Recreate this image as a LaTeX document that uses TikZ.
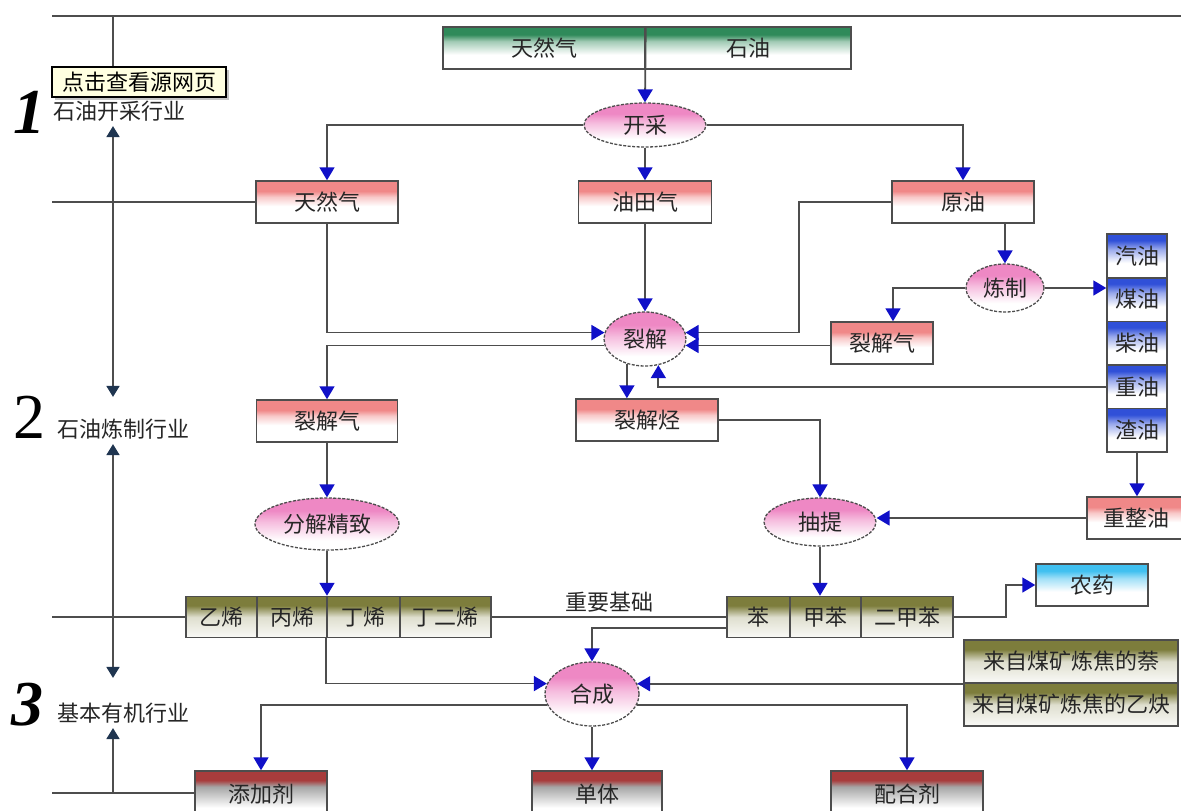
\documentclass[tikz,border=0pt]{standalone}
\usepackage{fontspec}
\usepackage{tikz}
\usetikzlibrary{arrows.meta,calc,shapes.geometric,shadows}
\newfontfamily\cjk{Noto Sans CJK SC}
\newfontfamily\numfont{Liberation Serif}
\definecolor{linegray}{HTML}{4D4D4D}
\definecolor{arrowblue}{HTML}{1010C8}
\definecolor{axisblue}{HTML}{1F3550}
\definecolor{boxred}{HTML}{F08888}
\definecolor{pinkell}{HTML}{EE88C4}
\definecolor{srcgreen}{HTML}{2F8A5A}
\definecolor{olivetop}{HTML}{7D7D3C}
\definecolor{endred}{HTML}{A83C3C}
\definecolor{cellblue}{HTML}{3050D8}
\definecolor{skycyan}{HTML}{40C0F0}
\definecolor{tipyellow}{HTML}{FFFFE1}
% fills: solid band on top, fading to white
\pgfdeclareverticalshading{redfade}{100bp}{color(0bp)=(white); color(45bp)=(white); color(56bp)=(boxred!45); color(63bp)=(boxred); color(100bp)=(boxred)}
\pgfdeclareverticalshading{greenfade}{100bp}{color(0bp)=(white); color(42bp)=(white); color(58bp)=(srcgreen!45); color(66bp)=(srcgreen); color(100bp)=(srcgreen)}
\pgfdeclareverticalshading{olivefade}{100bp}{color(0bp)=(white); color(25bp)=(olivetop!4); color(50bp)=(olivetop!25); color(64bp)=(olivetop); color(100bp)=(olivetop)}
\pgfdeclareverticalshading{darkfade}{100bp}{color(0bp)=(white); color(35bp)=(white); color(58bp)=(black!35); color(65bp)=(endred); color(100bp)=(endred)}
\pgfdeclareverticalshading{bluefade}{100bp}{color(0bp)=(white); color(42bp)=(white); color(58bp)=(cellblue!50); color(68bp)=(cellblue); color(100bp)=(cellblue)}
\pgfdeclareverticalshading{cyanfade}{100bp}{color(0bp)=(white); color(42bp)=(white); color(58bp)=(skycyan!50); color(67bp)=(skycyan); color(100bp)=(skycyan)}
\pgfdeclareverticalshading{pinkfade}{100bp}{color(0bp)=(white); color(34bp)=(white); color(52bp)=(pinkell!55); color(63bp)=(pinkell); color(100bp)=(pinkell)}

\begin{document}
\begin{tikzpicture}[x=1pt, y=-1pt, line width=1.8pt,
  every node/.style={font=\cjk\fontsize{22}{22}\selectfont, text=black!85},
  flowtip/.tip={Triangle[length=13pt, width=15pt, color=arrowblue]},
  axtip/.tip={Triangle[length=11pt, width=13pt, color=axisblue]},
  rule/.style={draw=linegray},
  flow/.style={draw=linegray, -{flowtip}},
  box/.style={draw=linegray, line width=1.5pt, inner sep=0pt, minimum height=42pt, shade, shading=redfade},
  srcbox/.style={box, shading=greenfade},
  olivebox/.style={box, minimum height=41pt, shading=olivefade},
  bluecell/.style={box, minimum width=60pt, minimum height=43.6pt, shading=bluefade},
  endbox/.style={box, minimum height=46pt, shading=darkfade},
  proc/.style={ellipse, draw=linegray, line width=1.3pt, dash pattern=on 3pt off 1.5pt, inner sep=0pt, shade, shading=pinkfade},
  sector/.style={anchor=west, inner xsep=0pt, inner ysep=4pt},
  bignum/.style={anchor=base, text=black}]

\useasboundingbox[fill=white] (0,0) rectangle (1181,811);
\clip (0,0) rectangle (1181,811);

% ends of the frame lines
\coordinate (ax) at (113,16);
\coordinate (l1) at (52,16);
\coordinate (r1) at (1181,16);
\coordinate (l2) at (52,202);
\coordinate (l3) at (52,617);
\coordinate (l4) at (52,793);

% sector labels on the left
\node[bignum, font=\numfont\fontsize{64}{64}\selectfont\bfseries\itshape] (n1) at (29,133) {1};
\node[bignum, font=\numfont\fontsize{64}{64}\selectfont] (n2) at (29,438) {2};
\node[bignum, font=\numfont\fontsize{64}{64}\selectfont\bfseries\itshape] (n3) at (28,725) {3};
\node[sector] (lab1) at (53,111) {石油开采行业};
\node[sector] (lab2) at (57,429) {石油炼制行业};
\node[sector] (lab3) at (57,713) {基本有机行业};
\node[draw=black, line width=1.2pt, fill=tipyellow, text=black, inner sep=0pt,
      minimum width=174pt, minimum height=30pt,
      drop shadow={shadow xshift=2.5pt, shadow yshift=-2.5pt, opacity=0.45}] (tip) at (139,82) {点击查看源网页};

% raw materials and extraction
\node[srcbox, minimum width=202pt] (srcgas) at (544,48) {天然气};
\node[srcbox, minimum width=206pt] (srcoil) at (748,48) {石油};
\node[proc, minimum width=122pt, minimum height=44pt] (kaicai) at (645,125) {开采};
\node[box, minimum width=142pt] (tianranqi) at (327,202) {天然气};
\node[box, minimum width=133pt] (youtianqi) at (645,202) {油田气};
\node[box, minimum width=142pt] (yuanyou) at (963,202) {原油};

% cracking and refining
\node[proc, minimum width=82pt, minimum height=54pt] (liejie) at (645,339) {裂解};
\node[proc, minimum width=78pt, minimum height=48pt] (lianzhi) at (1005,288) {炼制};
\node[box, minimum width=102pt] (liejieqiR) at (882,343) {裂解气};
\foreach \nm/\txt [count=\k from 0] in {qiyou/汽油, meiyou/煤油, chaiyou/柴油, zhongyou/重油, zhayou/渣油}
  \node[bluecell] (\nm) at (1137,{256+\k*43.6}) {\txt};
\node[box, minimum width=141pt] (liejieqiL) at (327,421) {裂解气};
\node[box, minimum width=142pt] (liejiexi) at (647,420) {裂解烃};
\node[proc, minimum width=144pt, minimum height=52pt] (fenjie) at (327,524) {分解精致};
\node[proc, minimum width=112pt, minimum height=48pt] (chouti) at (820,522) {抽提};
\node[box, minimum width=98pt] (chongzheng) at (1136,518) {重整油};

% basic chemicals
\foreach \nm/\txt/\cx/\w in {yixi/乙烯/221.5/71, bingxi/丙烯/292/70, dingxi/丁烯/363.5/73, dingerxi/丁二烯/445.5/91}
  \node[olivebox, minimum width=\w pt] (\nm) at (\cx,617) {\txt};
\foreach \nm/\txt/\cx/\w in {ben/苯/758.5/63, jiaben/甲苯/825.5/71, erjiaben/二甲苯/907/92}
  \node[olivebox, minimum width=\w pt] (\nm) at (\cx,617) {\txt};
\node[box, minimum width=112pt, shading=cyanfade] (nongyao) at (1092,585) {农药};
\node[olivebox, minimum width=214pt, minimum height=43pt] (nai) at (1071,661.5) {来自煤矿炼焦的萘};
\node[olivebox, minimum width=214pt, minimum height=43pt] (yique) at (1071,704.5) {来自煤矿炼焦的乙炔};
\node[proc, minimum width=94pt, minimum height=64pt] (hecheng) at (592,694) {合成};
\node[endbox, minimum width=132pt] (tianjia) at (261,794) {添加剂};
\node[endbox, minimum width=130pt] (danti) at (597,794) {单体};
\node[endbox, minimum width=152pt] (peihe) at (907,794) {配合剂};

% frame lines and the sector axis
\draw[rule] (l1) -- (r1);
\draw[rule] (ax) -- (ax |- tip.north);
\draw[rule] (l2) -- (l2 -| tianranqi.west);
\draw[rule] (l3) -- (l3 -| yixi.west);
\draw[rule] (l4) -- (l4 -| tianjia.west);
\draw[rule, {axtip}-{axtip}, shorten >=17pt] (ax |- lab1.south) -- (ax |- lab2.north);
\draw[rule, {axtip}-{axtip}, shorten >=20pt] (ax |- lab2.south) -- (ax |- lab3.north);
\draw[rule, {axtip}-] (ax |- lab3.south) -- (ax |- l4);

% flows
\draw[flow] (srcgas.north east) -- (kaicai.north);
\draw[flow] (kaicai.west) -| (tianranqi.north);
\draw[flow] (kaicai.south) -- (youtianqi.north);
\draw[flow] (kaicai.east) -| (yuanyou.north);
\draw[flow] (youtianqi.south) -- (liejie.north);
\draw[flow] (tianranqi.south) |- (liejie.171);
\draw[flow] (yuanyou.west) -- ++(-92,0) |- (liejie.9);
\draw[flow] (liejieqiR.west |- liejie.351) -- (liejie.351);
\draw[flow] (zhongyou.west) -| (liejie.297);
\draw[flow] (liejie.189) -| (liejieqiL.north);
\draw[flow] (liejie.234) -- (liejie.234 |- liejiexi.north);
\draw[flow] (yuanyou.south -| lianzhi.north) -- (lianzhi.north);
\draw[flow] (lianzhi.west) -| ($(liejieqiR.north)+(11,0)$);
\draw[flow] (lianzhi.east) -- (lianzhi.east -| meiyou.west);
\draw[flow] (zhayou.south) -- (zhayou.south |- chongzheng.north);
\draw[flow] (chongzheng.west) -- (chongzheng.west -| chouti.east);
\draw[flow] (liejiexi.east) -| (chouti.north);
\draw[flow] (liejieqiL.south) -- (fenjie.north);
\draw[flow] (fenjie.south) -- (fenjie.south |- dingxi.north);
\draw[flow] (chouti.south) -- (chouti.south |- jiaben.north);
\draw[rule] (dingerxi.east) -- node[midway, above=1pt] (jichu) {重要基础} (ben.west);
\draw[flow] (erjiaben.east) -- ++(52,0) |- (nongyao.west);
\draw[flow] ($(ben.west)+(0,11)$) -| (hecheng.north);
\draw[flow] (dingxi.south west) |- (hecheng.167);
\draw[flow] (nai.south west) -- (nai.south west -| hecheng.13);
\draw[flow] (hecheng.194) -| (tianjia.north);
\draw[flow] (hecheng.346) -| (peihe.north);
\draw[flow] (hecheng.south) -- (hecheng.south |- danti.north);

\end{tikzpicture}
\end{document}
